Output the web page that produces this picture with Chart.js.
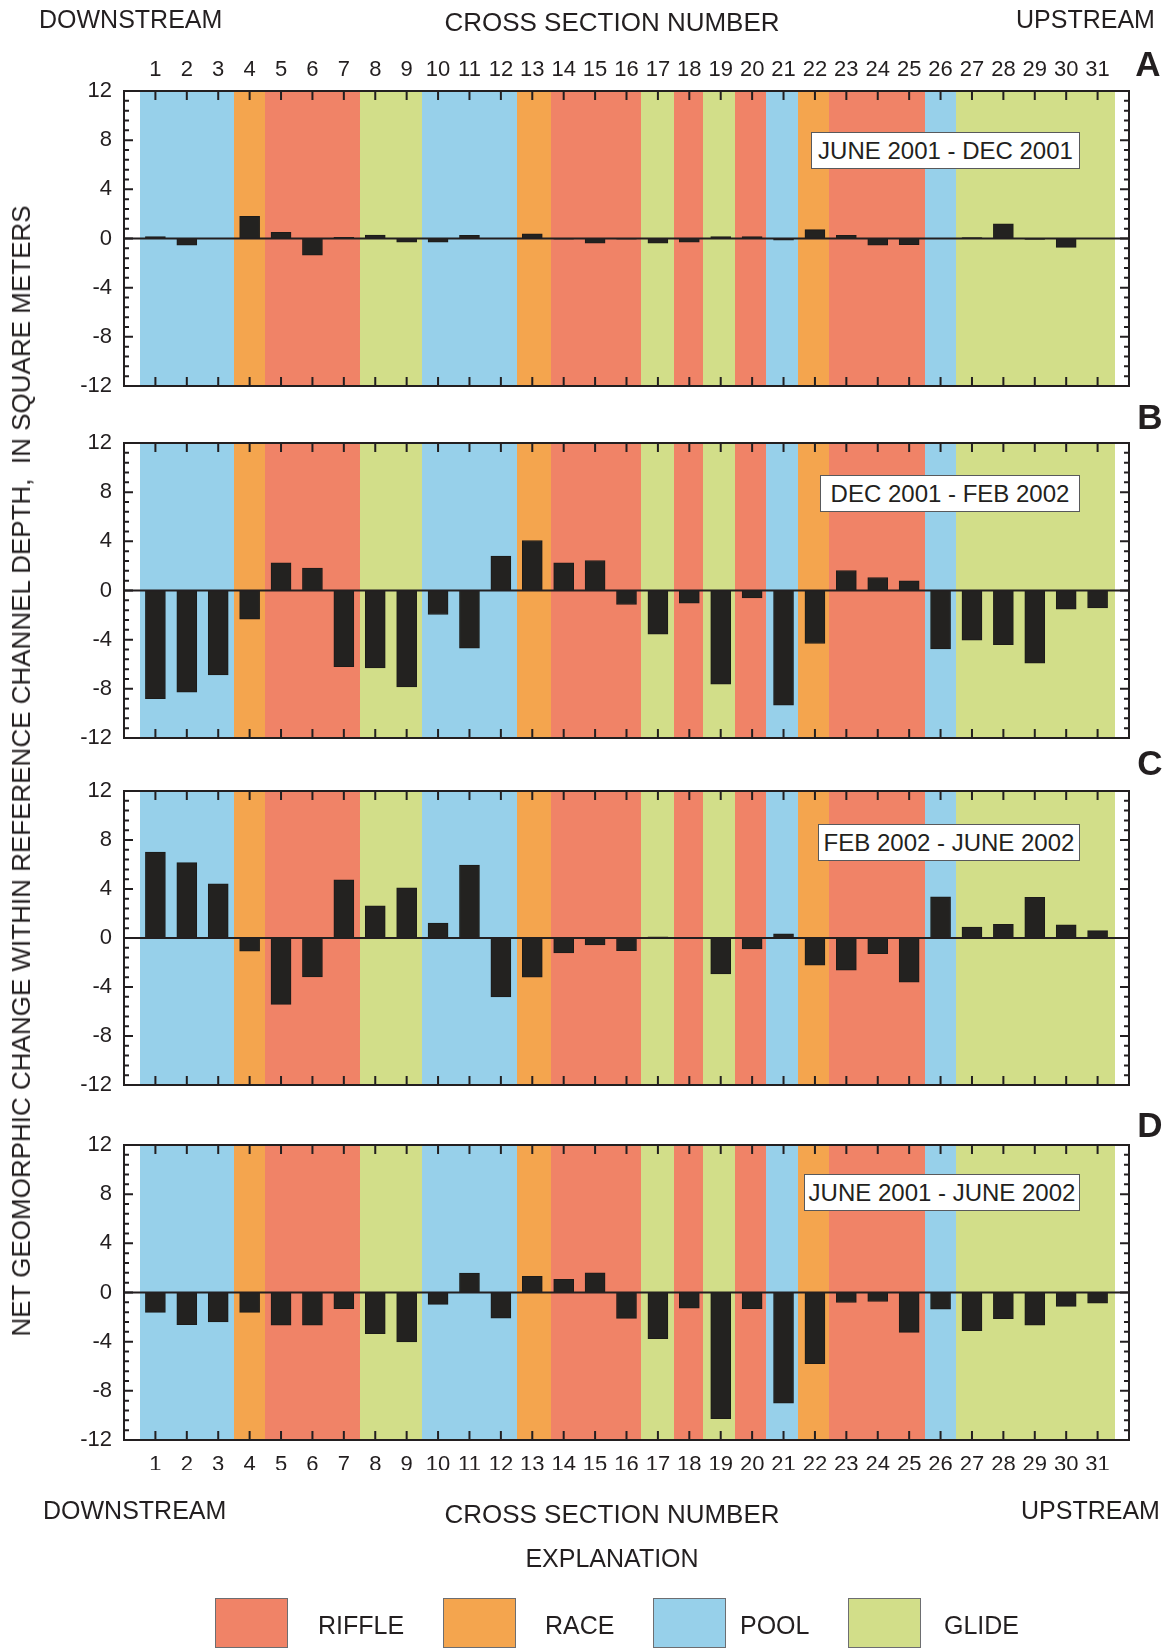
<!DOCTYPE html>
<html>
<head>
<meta charset="utf-8">
<title>Net geomorphic change by cross section</title>
<script src="https://cdn.jsdelivr.net/npm/chart.js@4.4.1/dist/chart.umd.min.js"></script>
<style>
  body { margin: 0; background: #fff; }
  #page { position: relative; width: 1170px; height: 1648px; overflow: hidden;
          font-family: "Liberation Sans", Arial, sans-serif; color: #231f20; }
  #page canvas { position: absolute; left: 0; top: 0; }
  .t { position: absolute; white-space: nowrap; font-size: 25px; line-height: 1; z-index: 2; }
  .c { transform: translate(-50%, -50%); }
  .l { transform: translateY(-50%); }
  .wide { font-size: 26px; }
  .letter { font-weight: bold; font-size: 35px; }
  .ytitle { position: absolute; left: 21px; top: 771px; font-size: 26px; line-height: 1; white-space: nowrap;
            transform: translate(-50%, -50%) rotate(-90deg); z-index: 2; }
  .box { position: absolute; background: #fff; border: 1px solid #58595b; font-size: 24px;
         height: 35px; line-height: 36px; text-align: center; z-index: 2; }
  .swatch { position: absolute; top: 1598px; width: 71px; height: 48px; border: 1px solid #6d6e71; }
</style>
</head>
<body>
<div id="page">
  <canvas id="chart-a" width="1170" height="1648"></canvas>
  <canvas id="chart-b" width="1170" height="1648"></canvas>
  <canvas id="chart-c" width="1170" height="1648"></canvas>
  <canvas id="chart-d" width="1170" height="1648"></canvas>

  <div class="t l" style="left:39px; top:19px;">DOWNSTREAM</div>
  <div class="t c wide" style="left:612px; top:22px;">CROSS SECTION NUMBER</div>
  <div class="t l" style="left:1016px; top:19px;">UPSTREAM</div>

  <div class="t c letter" style="left:1148px; top:63px;">A</div>
  <div class="t c letter" style="left:1150px; top:416px;">B</div>
  <div class="t c letter" style="left:1150px; top:762px;">C</div>
  <div class="t c letter" style="left:1150px; top:1124px;">D</div>

  <div class="box" style="left:811px; top:132px; width:267px;">JUNE 2001 - DEC 2001</div>
  <div class="box" style="left:820px; top:475px; width:258px;">DEC 2001 - FEB 2002</div>
  <div class="box" style="left:818px; top:824px; width:260px;">FEB 2002 - JUNE 2002</div>
  <div class="box" style="left:804px; top:1174px; width:274px;">JUNE 2001 - JUNE 2002</div>

  <div class="ytitle">NET GEOMORPHIC CHANGE WITHIN REFERENCE CHANNEL DEPTH,&nbsp; IN SQUARE METERS</div>

  <div class="t l" style="left:43px; top:1510px;">DOWNSTREAM</div>
  <div class="t c wide" style="left:612px; top:1514px;">CROSS SECTION NUMBER</div>
  <div class="t l" style="left:1021px; top:1510px;">UPSTREAM</div>
  <div class="t c" style="left:612px; top:1558px;">EXPLANATION</div>

  <div class="swatch" style="left:215px; background:#f08367;"></div>
  <div class="t l" style="left:318px; top:1625px;">RIFFLE</div>
  <div class="swatch" style="left:443px; background:#f4a54e;"></div>
  <div class="t l" style="left:545px; top:1625px;">RACE</div>
  <div class="swatch" style="left:653px; background:#97d0ea;"></div>
  <div class="t l" style="left:740px; top:1625px;">POOL</div>
  <div class="swatch" style="left:848px; background:#d2de89;"></div>
  <div class="t l" style="left:944px; top:1625px;">GLIDE</div>
</div>

<script>
'use strict';

// cross section numbers, downstream to upstream
const sections = [1, 2, 3, 4, 5, 6, 7, 8, 9, 10, 11, 12, 13, 14, 15, 16,
  17, 18, 19, 20, 21, 22, 23, 24, 25, 26, 27, 28, 29, 30, 31];

// net change, m2
const changeA = [0.15, -0.55, 0, 1.8, 0.5, -1.35, 0.1, 0.27, -0.3, -0.3, 0.25, 0, 0.38, -0.05, -0.38, -0.05,
  -0.38, -0.3, 0.15, 0.15, -0.13, 0.72, 0.25, -0.55, -0.5, 0, 0.08, 1.2, -0.08, -0.72, 0];
const changeB = [-8.8, -8.28, -6.87, -2.33, 2.25, 1.82, -6.19, -6.3, -7.84, -1.95, -4.69, 2.8, 4.07, 2.25, 2.44, -1.14,
  -3.55, -1.03, -7.63, -0.6, -9.33, -4.31, 1.63, 1.06, 0.79, -4.75, -4.04, -4.4, -5.92, -1.52, -1.41];
const changeC = [7.02, 6.15, 4.42, -1.08, -5.42, -3.17, 4.74, 2.63, 4.09, 1.22, 5.96, -4.8, -3.2, -1.22, -0.57, -1.03,
  0.1, 0, -2.93, -0.89, 0.35, -2.22, -2.63, -1.27, -3.6, 3.36, 0.89, 1.11, 3.31, 1.08, 0.6];
const changeD = [-1.62, -2.62, -2.4, -1.62, -2.65, -2.65, -1.32, -3.35, -4.02, -0.97, 1.57, -2.08, 1.32, 1.08, 1.6, -2.1,
  -3.75, -1.27, -10.26, -1.32, -9.0, -5.78, -0.81, -0.73, -3.24, -1.35, -3.1, -2.13, -2.65, -1.13, -0.86];

// habitat reaches: edges along the cross-section axis and the unit between each pair
const bandEdges = [0.5, 3.5, 4.5, 7.5, 9.5, 12.5, 13.6, 16.45, 17.5, 18.45, 19.45, 20.45, 21.45, 22.45, 25.5, 26.5, 31.55];
const bandTypes = ['POOL', 'RACE', 'RIFFLE', 'GLIDE', 'POOL', 'RACE', 'RIFFLE', 'GLIDE',
  'RIFFLE', 'GLIDE', 'RIFFLE', 'POOL', 'RACE', 'RIFFLE', 'POOL', 'GLIDE'];

const yTicks = [-12, -8, -4, 0, 4, 8, 12];

const habitatColors = {
  RIFFLE: '#f08367',
  RACE: '#f4a54e',
  POOL: '#97d0ea',
  GLIDE: '#d2de89'
};
const ink = '#231f20';

Chart.defaults.font.family = '"Liberation Sans", Arial, sans-serif';
Chart.defaults.color = ink;

const panelPlugin = {
  id: 'panel',
  beforeDatasetsDraw: function(chart) {
    const ctx = chart.ctx;
    const a = chart.chartArea;
    const x = chart.scales.x;
    ctx.save();
    for (let i = 0; i < bandTypes.length; i++) {
      const x0 = Math.round(x.getPixelForValue(bandEdges[i]));
      const x1 = Math.round(x.getPixelForValue(bandEdges[i + 1]));
      ctx.fillStyle = habitatColors[bandTypes[i]];
      ctx.fillRect(x0, a.top, x1 - x0, a.bottom - a.top);
    }
    ctx.restore();
  },
  afterDatasetsDraw: function(chart) {
    const ctx = chart.ctx;
    const a = chart.chartArea;
    const x = chart.scales.x;
    const y = chart.scales.y;
    ctx.save();
    ctx.strokeStyle = ink;
    ctx.lineWidth = 2;
    // zero line
    const y0 = y.getPixelForValue(0);
    ctx.beginPath();
    ctx.moveTo(a.left, y0);
    ctx.lineTo(a.right, y0);
    ctx.stroke();
    // inward ticks for each cross section, top and bottom
    ctx.beginPath();
    for (let s of sections) {
      const px = x.getPixelForValue(s);
      ctx.moveTo(px, a.top);
      ctx.lineTo(px, a.top + 9);
      ctx.moveTo(px, a.bottom);
      ctx.lineTo(px, a.bottom - 9);
    }
    // y ticks every 0.8 with longer ones at the labels
    for (let k = 0; k <= 30; k++) {
      const v = -12 + k * 0.8;
      const py = y.getPixelForValue(v);
      const len = k % 5 === 0 ? 9 : 5;
      ctx.moveTo(a.left, py);
      ctx.lineTo(a.left + len, py);
      ctx.moveTo(a.right, py);
      ctx.lineTo(a.right - len, py);
    }
    ctx.stroke();
    ctx.strokeRect(a.left, a.top, a.right - a.left, a.bottom - a.top);
    ctx.restore();
  }
};

const makePanel = function(id, values, top, bottom, axisPos) {
  const showX = axisPos !== null;
  let padTop = top;
  let padBottom = 1648 - bottom;
  if (axisPos === 'top') padTop -= 30;
  if (axisPos === 'bottom') padBottom -= 30;

  let points = [];
  for (let i = 0; i < sections.length; i++) {
    points.push({ x: sections[i], y: values[i] });
  }

  let xScale = {
    type: 'linear',
    min: 0,
    max: 32,
    offset: false,
    display: showX,
    position: showX ? axisPos : 'bottom',
    grid: { display: false, drawTicks: false, offset: false },
    border: { display: false },
    ticks: {
      stepSize: 1,
      autoSkip: false,
      maxRotation: 0,
      padding: axisPos === 'top' ? 8 : 12,
      font: { size: 22 },
      callback: function(v) {
        return v >= 1 && v <= 31 ? String(v) : '';
      }
    }
  };
  if (showX) {
    xScale.afterFit = function(s) { s.height = 30; };
  }

  return new Chart(document.getElementById(id).getContext('2d'), {
    type: 'bar',
    data: {
      datasets: [
        {
          data: points,
          backgroundColor: '#232220',
          borderColor: '#1c1b19',
          borderWidth: 1,
          barThickness: 20
        }
      ]
    },
    options: {
      responsive: false,
      animation: false,
      layout: { padding: { left: 59, right: 41, top: padTop, bottom: padBottom } },
      plugins: { legend: { display: false }, tooltip: { enabled: false } },
      scales: {
        x: xScale,
        y: {
          min: -12,
          max: 12,
          grid: { display: false, drawTicks: false },
          border: { display: false },
          afterBuildTicks: function(s) {
            s.ticks = yTicks.map(function(v) { return { value: v }; });
          },
          ticks: { padding: 12, font: { size: 22 } },
          afterFit: function(s) { s.width = 65; }
        }
      }
    },
    plugins: [panelPlugin]
  });
};

makePanel('chart-a', changeA, 91, 386, 'top');
makePanel('chart-b', changeB, 443, 738, null);
makePanel('chart-c', changeC, 791, 1085, null);
makePanel('chart-d', changeD, 1145, 1440, 'bottom');
</script>
</body>
</html>
